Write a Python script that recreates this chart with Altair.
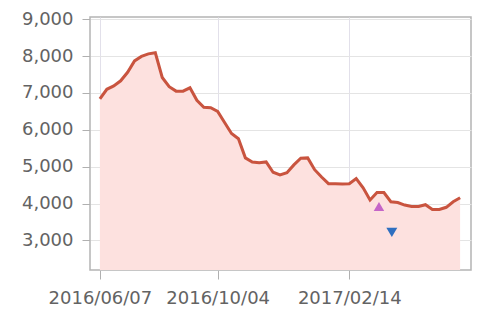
import altair as alt
import pandas as pd

# weekly series from 2016-06-07
start = "2016-06-07"
values = [6840, 7100, 7190, 7330, 7560, 7870, 7990, 8060, 8090, 7420,
          7170, 7050, 7050, 7140, 6800, 6610, 6600, 6500, 6200, 5900,
          5760, 5240, 5130, 5110, 5130, 4850, 4780, 4840, 5050, 5230,
          5240, 4920, 4720, 4540, 4540, 4530, 4540, 4680, 4430, 4100,
          4300, 4300, 4050, 4030, 3960, 3920, 3920, 3970, 3840, 3840,
          3900, 4050, 4160]
dates = pd.date_range(start, periods=len(values), freq="7D")

up_date = ["2017-03-16"]
up_value = [3920]
down_date = ["2017-03-29"]
down_value = [3220]

tick_dates = [(2016, 6, 7), (2016, 10, 4), (2017, 2, 14)]
y_min, y_max = 2200, 9060

df = pd.DataFrame({"date": dates.strftime("%Y-%m-%d"), "value": values})
df_up = pd.DataFrame({"date": up_date, "value": up_value})
df_down = pd.DataFrame({"date": down_date, "value": down_value})

xscale = alt.Scale(type="utc",
                   domain=[alt.DateTime(year=2016, month=5, date=28, utc=True),
                           alt.DateTime(year=2017, month=6, date=17, utc=True)])
yscale = alt.Scale(domain=[y_min, y_max], zero=False, nice=False)

xaxis = alt.Axis(title=None, format="%Y/%m/%d",
                 values=[alt.DateTime(year=y, month=m, date=d, utc=True) for y, m, d in tick_dates],
                 labelFont="DejaVu Sans", labelFontSize=18, labelColor="#636363",
                 tickSize=9, tickColor="#b0b0b0", labelPadding=10,
                 domain=False, gridColor="#e2e0ea", labelOverlap=False)
yaxis = alt.Axis(title=None, values=[3000, 4000, 5000, 6000, 7000, 8000, 9000],
                 format=",d", labelFont="DejaVu Sans", labelFontSize=18,
                 labelColor="#636363", tickSize=8, tickColor="#b0b0b0",
                 labelPadding=9, domain=False, gridColor="#e4e4e4")

x = alt.X("date:T", scale=xscale, axis=xaxis)
y = alt.Y("value:Q", scale=yscale, axis=yaxis)

area = alt.Chart(df).mark_area(color="#fde1df", opacity=1, clip=True).encode(
    x=x, y=y, y2=alt.Y2(datum=y_min))
line = alt.Chart(df).mark_line(color="#c9543f", strokeWidth=3).encode(
    x=alt.X("date:T", scale=xscale), y=alt.Y("value:Q", scale=yscale))
up = alt.Chart(df_up).mark_point(shape="triangle-up", filled=True, color="#c565c8",
                                 size=110, opacity=1).encode(
    x=alt.X("date:T", scale=xscale), y=alt.Y("value:Q", scale=yscale))
down = alt.Chart(df_down).mark_point(shape="triangle-down", filled=True, color="#2f6fc0",
                                     size=120, opacity=1).encode(
    x=alt.X("date:T", scale=xscale), y=alt.Y("value:Q", scale=yscale))

chart = alt.layer(area, line, up, down).properties(
    width=381, height=253,
    autosize=alt.AutoSizeParams(type="none"),
    padding={"left": 90, "top": 17, "right": 29, "bottom": 48},
    background="white",
).configure_view(stroke="#b4b4b4", strokeWidth=1.5)

chart.save("out.html", embed_options={"renderer": "svg", "actions": False})
